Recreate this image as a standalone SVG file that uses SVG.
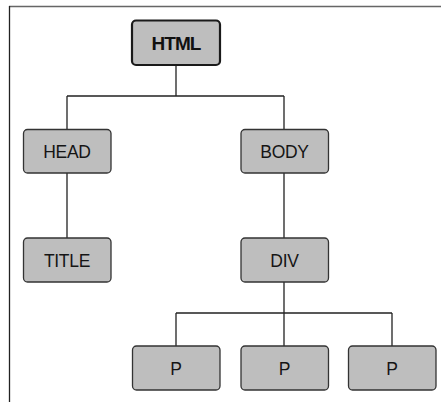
<svg xmlns="http://www.w3.org/2000/svg" width="441" height="402" viewBox="0 0 441 402">
<style>
.box{fill:#bebebe;stroke:#333;stroke-width:1.3}
.root{fill:#bebebe;stroke:#1a1a1a;stroke-width:2.2}
.lbl{font-family:"Liberation Sans",Arial,sans-serif;font-size:17.5px;fill:#151515;text-anchor:middle;letter-spacing:-0.3px}
.blbl{font-family:"Liberation Sans",Arial,sans-serif;font-size:19px;font-weight:bold;fill:#111;text-anchor:middle;letter-spacing:-0.9px}
.c{fill:none;stroke:#222;stroke-width:1.3}
</style>
<rect width="441" height="402" fill="#fff"/>
<line x1="9" y1="6.5" x2="441" y2="6.5" stroke="#666" stroke-width="1.5"/>
<line x1="9.5" y1="6" x2="9.5" y2="402" stroke="#222" stroke-width="1.3"/>
<g id="connectors">
<path class="c" d="M176 65 V96 M67 96 H284 M67 96 V129 M284 96 V129"/>
<path class="c" d="M67 173 V238 M284 173 V238"/>
<path class="c" d="M284 282 V346 M176 313 H392 M176 313 V346 M392 313 V346"/>
</g>
<g id="html"><rect class="root" x="132" y="20.5" width="88" height="44.5" rx="4"/><text class="blbl" x="176" y="50">HTML</text></g>
<g id="head"><rect class="box" x="23.5" y="129.5" width="87.5" height="43.5" rx="4"/><text class="lbl" x="67" y="158">HEAD</text></g>
<g id="body"><rect class="box" x="241" y="129.5" width="87.5" height="43.5" rx="4"/><text class="lbl" x="284.5" y="158">BODY</text></g>
<g id="title"><rect class="box" x="23.5" y="238" width="87.5" height="44" rx="4"/><text class="lbl" x="67" y="266.5">TITLE</text></g>
<g id="div"><rect class="box" x="241" y="238" width="87.5" height="44" rx="4"/><text class="lbl" x="284.5" y="266.5">DIV</text></g>
<g id="p1"><rect class="box" x="132.5" y="346" width="87.5" height="44" rx="4"/><text class="lbl" x="176" y="374.5">P</text></g>
<g id="p2"><rect class="box" x="241" y="346" width="87.5" height="44" rx="4"/><text class="lbl" x="284.5" y="374.5">P</text></g>
<g id="p3"><rect class="box" x="348.5" y="346" width="87.5" height="44" rx="4"/><text class="lbl" x="392" y="374.5">P</text></g>
</svg>
